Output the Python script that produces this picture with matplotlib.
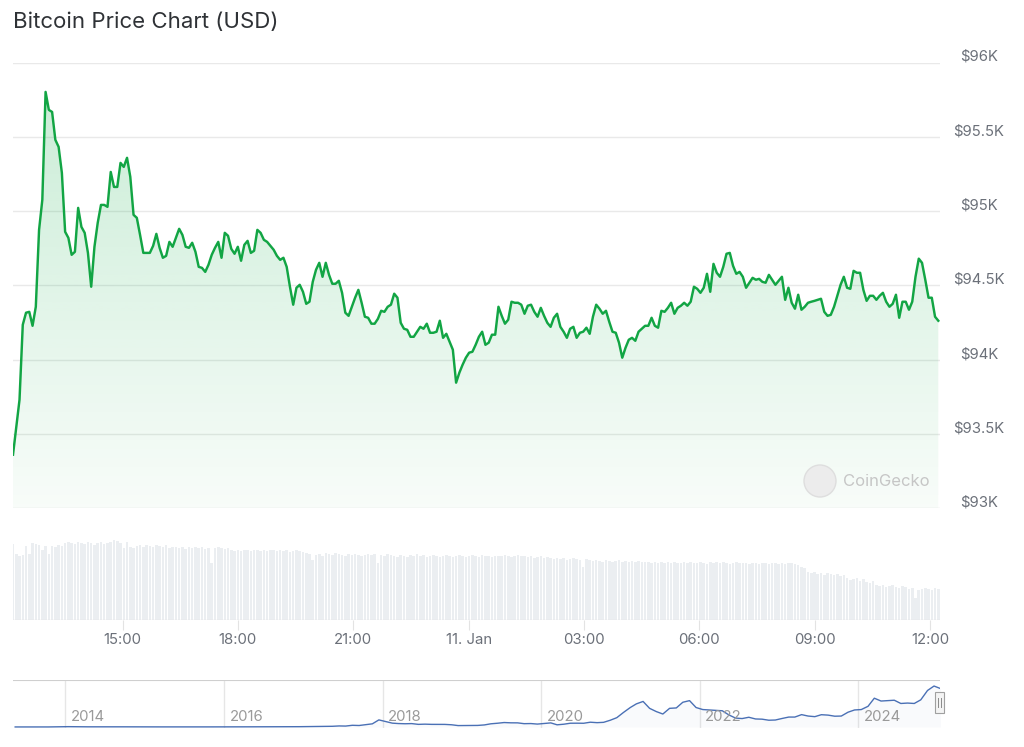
import numpy as np
import pandas as pd
import matplotlib
matplotlib.use("Agg")
import matplotlib.pyplot as plt
import matplotlib.dates as mdates
import matplotlib.patches as mpatches
import matplotlib.transforms as mtransforms

plt.rcParams['font.family'] = ['Inter', 'DejaVu Sans']

# ---------------- data ----------------
title = "Bitcoin Price Chart (USD)"
start_time = "2025-01-10 12:09"
end_time = "2025-01-11 12:13"

prices = [
    93359, 93541, 93729,
    94234, 94315, 94321, 94227, 94355, 94873, 95075, 95802, 95681, 95667, 95479, 95432, 95257, 94860,
    94819, 94705, 94725, 95021, 94893, 94853, 94718, 94490, 94759, 94920, 95041, 95041, 95028, 95263,
    95162, 95162, 95324, 95297, 95358, 95230, 94974, 94954, 94839, 94718, 94718, 94718, 94765, 94846,
    94752, 94685, 94698, 94792, 94759, 94819, 94880, 94839, 94759, 94752,
    94786, 94725, 94624, 94617, 94590, 94638, 94705, 94752, 94792, 94685, 94853, 94833, 94745, 94712,
    94759, 94665, 94772, 94799, 94718, 94732, 94873, 94853, 94806, 94792, 94765, 94739, 94698, 94671,
    94685, 94624, 94490, 94369, 94483, 94503, 94456, 94375, 94389, 94523, 94604, 94651, 94557, 94651,
    94570, 94510, 94510, 94530, 94449, 94315, 94294, 94355, 94416, 94469, 94382, 94288, 94281, 94241, 94241,
    94274, 94328, 94321, 94355, 94369, 94443, 94416, 94247, 94207, 94200, 94153, 94153, 94187, 94220,
    94207, 94241, 94180, 94180, 94187, 94261, 94146, 94173, 94120, 94066, 93844, 93911, 93965, 94012,
    94046, 94052, 94099, 94153, 94187, 94099, 94113, 94167, 94167, 94355, 94294, 94241, 94268, 94389,
    94382, 94382, 94369, 94308, 94362, 94369, 94321, 94288, 94348, 94294, 94247, 94220, 94281, 94308,
    94220, 94187, 94146, 94207, 94220, 94146, 94180, 94187, 94214, 94173, 94288, 94369, 94342, 94308,
    94328, 94254, 94187, 94180, 94113, 94012, 94079, 94133, 94146, 94126, 94187, 94207, 94227, 94227,
    94281, 94227, 94214, 94328, 94321, 94348, 94382, 94308, 94348, 94362, 94382, 94362, 94389, 94490,
    94476, 94449, 94483, 94577, 94456, 94644, 94584, 94557, 94624, 94712, 94718, 94631, 94577, 94590,
    94557, 94483, 94517, 94550, 94537, 94543, 94523, 94517, 94570, 94537, 94503, 94530, 94557, 94402,
    94483, 94382, 94342, 94436, 94335, 94355, 94382, 94389, 94395, 94402, 94409, 94321, 94294, 94301,
    94355, 94429, 94503, 94557, 94483, 94476, 94597, 94584, 94584, 94469, 94395, 94429, 94429, 94402,
    94429, 94449, 94389, 94355, 94375, 94436, 94281, 94389, 94389, 94335, 94389, 94557, 94679, 94651,
    94537, 94416, 94416, 94288, 94261,
]

# 24h volume (relative units), one bar per sample
volume = [
    76, 66, 64, 65, 74, 66, 77, 76, 75, 70, 74, 66, 74, 73, 75,
    74, 77, 78, 77, 76, 78, 77, 76, 78, 77, 75, 77, 78, 76, 77,
    78, 80, 79, 77, 72, 78, 73, 72, 74, 75, 73, 75, 74, 73, 75,
    74, 73, 75, 72, 73, 73, 72, 73, 71, 73, 72, 73, 72, 73, 71,
    72, 57, 72, 73, 72, 71, 72, 70, 69, 70, 69, 70, 70, 69, 70,
    70, 69, 70, 69, 70, 70, 69, 70, 69, 70, 68, 69, 70, 69, 68,
    67, 66, 60, 65, 66, 64, 67, 66, 65, 67, 66, 65, 64, 66, 65,
    66, 65, 64, 65, 66, 65, 66, 57, 65, 64, 66, 65, 64, 63, 65,
    64, 63, 65, 64, 66, 64, 65, 63, 64, 65, 64, 63, 64, 65, 64,
    63, 64, 65, 64, 63, 64, 65, 64, 63, 65, 64, 64, 63, 64, 64,
    64, 65, 64, 63, 64, 65, 64, 64, 63, 64, 62, 63, 64, 62, 63,
    62, 61, 62, 61, 62, 60, 61, 62, 61, 60, 53, 61, 60, 59, 60,
    59, 58, 60, 59, 58, 59, 60, 58, 59, 58, 59, 58, 59, 58, 58,
    58, 57, 58, 57, 58, 57, 58, 57, 58, 57, 57, 58, 57, 58, 57,
    57, 58, 57, 56, 58, 57, 58, 57, 58, 57, 56, 57, 58, 57, 57,
    57, 56, 57, 57, 56, 57, 57, 56, 57, 57, 56, 57, 56, 57, 57,
    56, 55, 53, 52, 48, 47, 48, 46, 47, 45, 47, 46, 45, 46, 44,
    45, 42, 40, 41, 42, 39, 41, 38, 37, 39, 35, 34, 35, 33, 34,
    35, 33, 32, 34, 33, 31, 32, 22, 30, 31, 32, 31, 30, 32, 31,
]

y_ticks = [93000, 93500, 94000, 94500, 95000, 95500, 96000]
y_tick_labels = ["$93K", "$93.5K", "$94K", "$94.5K", "$95K", "$95.5K", "$96K"]

x_tick_times = ["2025-01-10 15:00", "2025-01-10 18:00", "2025-01-10 21:00", "2025-01-11 00:00",
                "2025-01-11 03:00", "2025-01-11 06:00", "2025-01-11 09:00", "2025-01-11 12:00"]
x_tick_labels = ["15:00", "18:00", "21:00", "11. Jan", "03:00", "06:00", "09:00", "12:00"]

# navigator: monthly (mid-month) BTC price, May 2013 .. Jan 2025
nav_start_month = "2013-05-01"
nav_prices = [
    120, 105, 90, 105, 130, 150, 430, 800,
    850, 620, 580, 450, 500, 620, 620, 530, 450, 380, 360, 340,
    240, 230, 270, 230, 235, 240, 285, 260, 230, 260, 330, 440,
    400, 400, 415, 430, 450, 700, 670, 580, 605, 640, 730, 780,
    950, 1030, 1150, 1200, 1750, 2600, 2300, 4200, 3700, 5600, 7800, 17500,
    13500, 9500, 8500, 8000, 8400, 6500, 7000, 6500, 6500, 6400, 5500, 3500,
    3600, 3600, 3900, 5100, 7900, 9300, 11000, 10300, 10200, 8200, 8500, 7200,
    8700, 10100, 5400, 6900, 9300, 9400, 9200, 11800, 10700, 11500, 16700, 23000,
    36000, 48000, 57000, 63000, 46000, 38000, 32000, 46000, 47000, 61000, 65000, 48000,
    43000, 42000, 41000, 40000, 29800, 22000, 20800, 24000, 19800, 19300, 16700, 17200,
    21000, 24500, 24500, 30500, 27000, 25500, 30300, 29300, 26600, 27000, 36500, 42000,
    43000, 51000, 71000, 64000, 65000, 66000, 58000, 59000, 58000, 67000, 90000, 101000,
    94500,
]
nav_years = [2014, 2016, 2018, 2020, 2022, 2024]

# ---------------- styling ----------------
W, H = 1024, 747
GREEN = "#12a544"
LABEL = "#6b7079"
GRID = "#e9e9e9"
FS = 10.75


def box(l, t, r, b):
    return [l / W, 1 - b / H, (r - l) / W, (b - t) / H]


fig = plt.figure(figsize=(W / 100, H / 100), dpi=100)
fig.patch.set_facecolor("white")

times = pd.date_range(start_time, end_time, periods=len(prices))
tnum = mdates.date2num(times.to_pydatetime())
vtimes = pd.date_range(start_time, end_time, periods=len(volume))
vnum = mdates.date2num(vtimes.to_pydatetime())
dt = (tnum[-1] - tnum[0]) / (len(prices) - 1)
px_per_day = (930 - 122.6) / (21 / 24)
x_left = tnum[0]
x_right = x_left + (940 - 13) / px_per_day

# ---- price pane ----
ax = fig.add_axes(box(13, 62.5, 940, 508))
ax.set_facecolor("none")
for s in ax.spines.values():
    s.set_visible(False)

poly = ax.fill_between(tnum, prices, y_ticks[0], facecolor="none", edgecolor="none")
n = 256
grad = np.zeros((n, 1, 4))
g = np.array([0 / 255, 168 / 255, 62 / 255])
alphas = np.linspace(0.03, 0.22, n)
grad[:, 0, :3] = g
grad[:, 0, 3] = alphas
img = ax.imshow(grad, extent=[x_left, x_right, y_ticks[0], y_ticks[-1]], aspect="auto",
                origin="lower", zorder=1, interpolation="bilinear")
img.set_clip_path(poly.get_paths()[0], transform=ax.transData)

ax.plot(tnum, prices, color=GREEN, lw=1.75, zorder=3, solid_joinstyle="round")

ax.set_xlim(x_left, x_right)
ax.set_ylim(y_ticks[0], y_ticks[-1])
ax.set_yticks(y_ticks)
ax.set_yticklabels(y_tick_labels)
ax.yaxis.tick_right()
ax.tick_params(axis="y", length=0, pad=39 * 0.72, labelsize=FS, labelcolor=LABEL)
for lab in ax.get_yticklabels():
    lab.set_horizontalalignment("center")
    lab.set_transform(lab.get_transform() + mtransforms.ScaledTranslation(0, 7 / 100, fig.dpi_scale_trans))
ax.set_xticks([])
ax.grid(axis="y", color=GRID, lw=1, zorder=0)
ax.set_axisbelow(True)

# ---- volume pane ----
vax = fig.add_axes(box(13, 530, 940, 620))
vax.set_facecolor("none")
for s in vax.spines.values():
    s.set_visible(False)
vax.bar(vnum, volume, width=dt * 0.78, color="#ebeef1", align="center", zorder=2)
vax.axhline(0, color="#e3e3e3", lw=1, zorder=3)
vax.set_xlim(x_left, x_right)
vax.set_ylim(0, 90)
vax.set_yticks([])
xt = mdates.date2num(pd.to_datetime(x_tick_times).to_pydatetime())
vax.set_xticks(xt)
vax.set_xticklabels(x_tick_labels)
vax.tick_params(axis="x", length=7.2, width=0.8, color="#e3e3e3", pad=2,
                labelsize=FS, labelcolor=LABEL)

# ---- navigator ----
nax = fig.add_axes(box(13, 680, 940, 728))
nax.set_facecolor("none")
for s in nax.spines.values():
    s.set_visible(False)
nav_t = pd.date_range(nav_start_month, periods=len(nav_prices), freq="MS") + pd.Timedelta(days=14)
nav_num = mdates.date2num(nav_t.to_pydatetime())
nax.plot(nav_num, nav_prices, color="#4a70b5", lw=1.0, zorder=3)
nax.fill_between(nav_num, nav_prices, 0, color="#4a70b5", alpha=0.03, lw=0, zorder=2)
nav_left = mdates.date2num(pd.Timestamp("2013-05-05"))
nav_right = mdates.date2num(pd.Timestamp("2025-01-11 12:00"))
nax.set_xlim(nav_left, nav_right)
nax.set_ylim(-2465, 115860)
yr_num = mdates.date2num(pd.to_datetime([f"{y}-01-01" for y in nav_years]).to_pydatetime())
for yn, yl in zip(yr_num, nav_years):
    nax.axvline(yn, color="#e6e6e6", lw=1, zorder=1)
    nax.annotate(str(yl), xy=(yn, 0), xycoords=("data", "axes fraction"),
                 xytext=(4, 3), textcoords="offset points", fontsize=FS,
                 color="#9a9a9a", ha="left", va="bottom")
nax.axhline(115860, color="#cfcfcf", lw=1.5, zorder=4)
nax.set_xticks([])
nax.set_yticks([])

# navigator handle
fig.add_artist(mpatches.Rectangle((935 / W, 1 - 713 / H), 9 / W, 21 / H, transform=fig.transFigure,
                                  facecolor="#f4f4f4", edgecolor="#a0a0a0", lw=0.8, zorder=10))
for xx in (938.3, 940.7):
    fig.add_artist(plt.Line2D([xx / W, xx / W], [1 - 707 / H, 1 - 698 / H], transform=fig.transFigure,
                              color="#8a8a8a", lw=0.7, zorder=11))

# ---- watermark ----
fig.add_artist(mpatches.Ellipse((820 / W, 1 - 481 / H), 32 / W, 32 / H, transform=fig.transFigure,
                                facecolor="#ececec", edgecolor="#dedede", lw=1.0, zorder=5))
fig.text(843 / W, 1 - 481 / H, "CoinGecko", fontsize=12, color="#c6c6c6", va="center", ha="left")

# ---- title ----
fig.text(13 / W, 1 - 22 / H, title, fontsize=16, color="#2f3236", va="center", ha="left")

fig.savefig("out.png", dpi=100, facecolor="white")
